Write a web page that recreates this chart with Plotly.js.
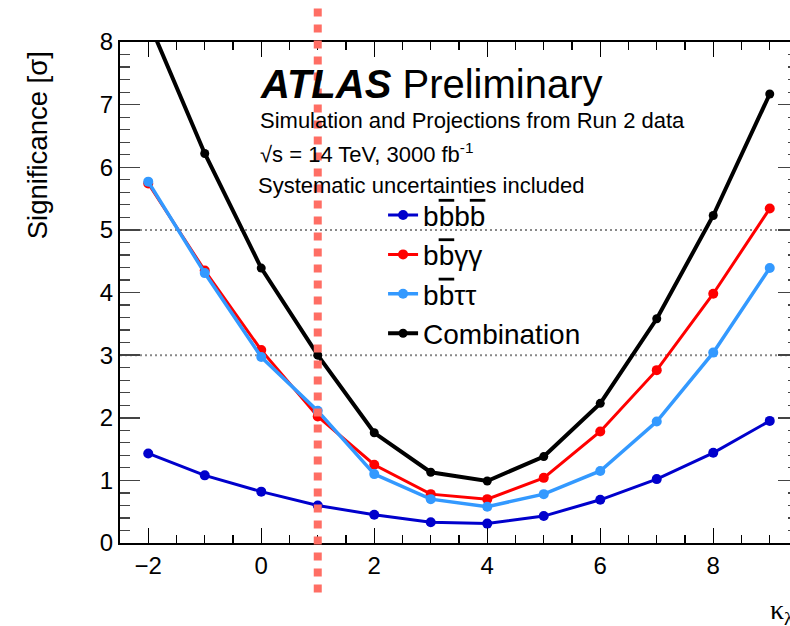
<!DOCTYPE html>
<html>
<head>
<meta charset="utf-8">
<script src="https://cdn.plot.ly/plotly-3.0.1.min.js"></script>
<style>
html,body{margin:0;padding:0;overflow:hidden;background:#fff;width:790px;height:626px;}
#chart{width:812px;height:626px;}
</style>
</head>
<body>
<div id="chart"></div>
<script>
const kappa = [-2, -1, 0, 1, 2, 3, 4, 5, 6, 7, 8, 9];
const sig_bbbb = [1.43, 1.08, 0.82, 0.60, 0.45, 0.33, 0.31, 0.43, 0.69, 1.02, 1.44, 1.95];
const sig_bbyy = [5.74, 4.35, 3.08, 2.02, 1.25, 0.78, 0.70, 1.04, 1.78, 2.76, 3.98, 5.34];
const sig_bbtt = [5.77, 4.31, 2.97, 2.11, 1.10, 0.70, 0.58, 0.78, 1.15, 1.94, 3.04, 4.39];
const sig_comb = [8.34, 6.22, 4.39, 3.00, 1.76, 1.13, 0.99, 1.38, 2.23, 3.58, 5.23, 7.17];
const names = ['b<span style="text-decoration:overline">b</span>b<span style="text-decoration:overline">b</span>',
               'b<span style="text-decoration:overline">b</span>γγ',
               'b<span style="text-decoration:overline">b</span>ττ',
               'Combination'];
const colors = ['#0000cc', '#ff0000', '#3399ff', '#000000'];
const smRef = 1;

const series = [sig_bbbb, sig_bbyy, sig_bbtt, sig_comb];
const widths = [3, 3, 3.5, 4];
const msize = [10, 10, 10, 9];
const traces = series.map((s, i) => ({
  x: kappa, y: s, type: 'scatter', mode: 'lines+markers', name: names[i],
  legendgroup: 'g' + i,
  line: {color: colors[i], width: widths[i]},
  marker: {color: colors[i], size: msize[i]}
}));

const F = 'Liberation Sans, Arial, Helvetica, sans-serif';
const layout = {
  width: 812, height: 626,
  margin: {l: 120, r: 14, t: 42, b: 83},
  paper_bgcolor: '#fff', plot_bgcolor: '#fff',
  font: {family: F, color: '#000'},
  showlegend: true,
  legend: {x: 0.388, y: 0.704, xanchor: 'left', yanchor: 'top', bgcolor: 'rgba(0,0,0,0)',
           font: {size: 28, family: F}, traceorder: 'grouped', tracegroupgap: 0},
  xaxis: {range: [-2.5, 9.5], tickvals: [-2, 0, 2, 4, 6, 8], ticktext: ['\u22122', '0', '2', '4', '6', '8'],
          ticks: 'inside', ticklen: 15, tickwidth: 1.5, tickcolor: '#000',
          minor: {dtick: 0.5, tick0: 0, ticks: 'inside', ticklen: 8, tickwidth: 1.2, tickcolor: '#000'},
          showline: true, linecolor: '#000', linewidth: 2, mirror: 'ticks',
          showgrid: false, zeroline: false, tickfont: {size: 24, family: F}, fixedrange: true},
  yaxis: {range: [0, 8], dtick: 1, ticks: 'inside', ticklen: 20, tickwidth: 1.5, tickcolor: '#444',
          minor: {dtick: 0.2, ticks: 'inside', ticklen: 10, tickwidth: 1.2, tickcolor: '#444'},
          showline: true, linecolor: '#000', linewidth: 2, mirror: 'ticks',
          showgrid: false, zeroline: false, tickfont: {size: 24, family: F}, fixedrange: true},
  shapes: [
    {type: 'line', xref: 'paper', yref: 'y', x0: 0, x1: 1, y0: 5, y1: 5, layer: 'below',
     line: {color: '#888', width: 2, dash: '2px,3px'}},
    {type: 'line', xref: 'paper', yref: 'y', x0: 0, x1: 1, y0: 3, y1: 3, layer: 'below',
     line: {color: '#888', width: 2, dash: '2px,3px'}},
    {type: 'line', xref: 'x', yref: 'paper', x0: smRef, x1: smRef, y0: -0.099, y1: 1.067, layer: 'above',
     line: {color: '#ff6e64', width: 8, dash: '8px,8px'}}
  ],
  annotations: [
    {xref: 'paper', yref: 'paper', x: 0.2035, y: 0.916, xanchor: 'left', yanchor: 'middle', showarrow: false,
     text: '<b><i>ATLAS</i></b> Preliminary', font: {size: 40, family: F}},
    {xref: 'paper', yref: 'paper', x: 0.2035, y: 0.843, xanchor: 'left', yanchor: 'middle', showarrow: false,
     text: 'Simulation and Projections from Run 2 data', font: {size: 22, family: F}},
    {xref: 'paper', yref: 'paper', x: 0.2035, y: 0.779, xanchor: 'left', yanchor: 'middle', showarrow: false,
     text: '\u221As = 14 TeV, 3000 fb<sup>-1</sup>', font: {size: 22, family: F}},
    {xref: 'paper', yref: 'paper', x: 0.200, y: 0.713, xanchor: 'left', yanchor: 'middle', showarrow: false,
     text: 'Systematic uncertainties included', font: {size: 22, family: F}},
    {xref: 'paper', yref: 'paper', x: -0.122, y: 0.986, xanchor: 'center', yanchor: 'top', textangle: -90, showarrow: false,
     text: 'Significance [σ]', font: {size: 27.5, family: F}},
    {xref: 'paper', yref: 'paper', x: 0.956, y: -0.136, xanchor: 'left', yanchor: 'middle', showarrow: false,
     text: 'κ<sub>λ</sub>', font: {size: 28, family: 'Liberation Serif, Times New Roman, serif'}}
  ]
};

Plotly.newPlot('chart', traces, layout, {displayModeBar: false, staticPlot: true});
</script>
</body>
</html>
